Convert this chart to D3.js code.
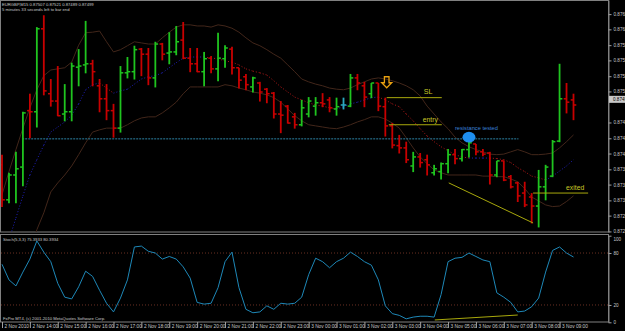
<!DOCTYPE html>
<html>
<head>
<meta charset="utf-8">
<script src="https://cdn.jsdelivr.net/npm/d3@7"></script>
<style>
  body { margin: 0; background: #000; }
  svg { display: block; }
  text { font-family: "Liberation Sans", Arial, sans-serif; }
</style>
</head>
<body>
<div id="chart"></div>
<script>
// EURGBP M15, 2 Nov 2010 13:00 .. 3 Nov 2010 09:30 (one entry per bar)
const opens = [0.87383,0.87321,0.87365,0.87379,0.87479,0.87477,0.87624,0.87509,0.87496,0.87473,
  0.87477,0.87556,0.87560,0.87562,0.87523,0.87500,0.87479,0.87448,0.87546,0.87548,
  0.87588,0.87579,0.87537,0.87597,0.87581,0.87583,0.87604,0.87572,0.87562,0.87548,
  0.87572,0.87553,0.87571,0.87588,0.87555,0.87539,0.87521,0.87528,0.87517,0.87510,
  0.87473,0.87487,0.87468,0.87454,0.87473,0.87487,0.87493,0.87498,0.87482,0.87489,
  0.87487,0.87537,0.87523,0.87509,0.87528,0.87486,0.87452,0.87417,0.87413,0.87381,
  0.87397,0.87392,0.87369,0.87371,0.87385,0.87401,0.87394,0.87410,0.87420,0.87406,
  0.87404,0.87365,0.87390,0.87362,0.87351,0.87333,0.87326,0.87310,0.87344,0.87363,
  0.87425,0.87500,0.87498]
const highs = [0.87401,0.87369,0.87406,0.87477,0.87509,0.87627,0.87648,0.87535,0.87558,0.87526,
  0.87564,0.87588,0.87638,0.87569,0.87535,0.87526,0.87491,0.87558,0.87574,0.87594,
  0.87590,0.87590,0.87601,0.87599,0.87618,0.87629,0.87636,0.87590,0.87590,0.87583,
  0.87576,0.87617,0.87595,0.87592,0.87555,0.87544,0.87539,0.87530,0.87519,0.87512,
  0.87496,0.87489,0.87475,0.87498,0.87503,0.87503,0.87510,0.87503,0.87502,0.87502,
  0.87544,0.87544,0.87530,0.87528,0.87528,0.87502,0.87457,0.87436,0.87424,0.87406,
  0.87404,0.87401,0.87383,0.87387,0.87411,0.87411,0.87411,0.87431,0.87420,0.87411,
  0.87406,0.87390,0.87390,0.87365,0.87353,0.87353,0.87333,0.87374,0.87383,0.87427,
  0.87562,0.87528,0.87509]
const lows = [0.87309,0.87316,0.87316,0.87346,0.87431,0.87450,0.87507,0.87487,0.87470,0.87461,
  0.87461,0.87523,0.87546,0.87523,0.87477,0.87463,0.87432,0.87441,0.87537,0.87535,
  0.87541,0.87525,0.87521,0.87569,0.87562,0.87578,0.87571,0.87548,0.87548,0.87523,
  0.87546,0.87532,0.87556,0.87544,0.87519,0.87516,0.87512,0.87496,0.87493,0.87466,
  0.87440,0.87457,0.87448,0.87452,0.87468,0.87471,0.87486,0.87477,0.87471,0.87482,
  0.87486,0.87516,0.87486,0.87502,0.87479,0.87434,0.87413,0.87404,0.87387,0.87371,
  0.87379,0.87365,0.87365,0.87358,0.87369,0.87385,0.87390,0.87397,0.87401,0.87399,
  0.87349,0.87362,0.87355,0.87342,0.87318,0.87309,0.87280,0.87273,0.87321,0.87362,
  0.87424,0.87475,0.87463]
const closes = [0.87321,0.87365,0.87376,0.87475,0.87477,0.87624,0.87514,0.87496,0.87470,0.87477,
  0.87558,0.87558,0.87562,0.87548,0.87500,0.87479,0.87448,0.87546,0.87548,0.87587,
  0.87579,0.87537,0.87597,0.87579,0.87583,0.87601,0.87572,0.87562,0.87548,0.87571,
  0.87553,0.87572,0.87590,0.87555,0.87533,0.87525,0.87537,0.87512,0.87509,0.87473,
  0.87471,0.87457,0.87454,0.87484,0.87496,0.87493,0.87491,0.87484,0.87486,0.87489,
  0.87537,0.87528,0.87503,0.87528,0.87487,0.87452,0.87418,0.87413,0.87392,0.87397,
  0.87387,0.87383,0.87376,0.87385,0.87401,0.87394,0.87410,0.87422,0.87406,0.87402,
  0.87365,0.87390,0.87356,0.87344,0.87328,0.87312,0.87310,0.87344,0.87379,0.87424,
  0.87500,0.87494,0.87489]

// bands (upper / middle / lower)
const bandUpper = [0.87330,0.87371,0.87410,0.87448,0.87484,0.87516,0.87541,0.87551,0.87553,0.87555,
  0.87565,0.87595,0.87617,0.87618,0.87620,0.87601,0.87583,0.87587,0.87594,0.87601,
  0.87599,0.87597,0.87597,0.87608,0.87618,0.87627,0.87631,0.87631,0.87629,0.87629,
  0.87627,0.87631,0.87629,0.87625,0.87618,0.87608,0.87599,0.87594,0.87587,0.87579,
  0.87572,0.87560,0.87548,0.87535,0.87530,0.87526,0.87523,0.87519,0.87517,0.87516,
  0.87519,0.87525,0.87530,0.87535,0.87537,0.87535,0.87532,0.87528,0.87523,0.87516,
  0.87505,0.87487,0.87473,0.87459,0.87447,0.87432,0.87422,0.87415,0.87410,0.87406,
  0.87402,0.87401,0.87402,0.87406,0.87410,0.87406,0.87401,0.87401,0.87402,0.87404,
  0.87413,0.87424,0.87436]
const bandMiddle = [0.87211,0.87250,0.87289,0.87328,0.87365,0.87392,0.87418,0.87441,0.87450,0.87459,
  0.87471,0.87491,0.87516,0.87525,0.87528,0.87519,0.87510,0.87514,0.87517,0.87526,
  0.87535,0.87539,0.87541,0.87546,0.87555,0.87564,0.87572,0.87574,0.87574,0.87574,
  0.87572,0.87571,0.87567,0.87565,0.87560,0.87553,0.87549,0.87546,0.87542,0.87532,
  0.87521,0.87512,0.87503,0.87498,0.87493,0.87489,0.87487,0.87484,0.87482,0.87486,
  0.87491,0.87494,0.87498,0.87502,0.87503,0.87498,0.87491,0.87486,0.87473,0.87461,
  0.87447,0.87434,0.87424,0.87415,0.87408,0.87401,0.87397,0.87395,0.87395,0.87395,
  0.87395,0.87394,0.87392,0.87387,0.87378,0.87371,0.87363,0.87360,0.87356,0.87363,
  0.87372,0.87381,0.87392]
const bandLower = [0.87091,0.87126,0.87162,0.87197,0.87233,0.87268,0.87298,0.87335,0.87351,0.87365,
  0.87381,0.87401,0.87422,0.87441,0.87445,0.87448,0.87448,0.87448,0.87454,0.87461,
  0.87466,0.87468,0.87468,0.87475,0.87484,0.87494,0.87509,0.87521,0.87521,0.87521,
  0.87521,0.87521,0.87525,0.87523,0.87519,0.87516,0.87512,0.87510,0.87507,0.87502,
  0.87494,0.87482,0.87470,0.87461,0.87454,0.87452,0.87450,0.87448,0.87447,0.87450,
  0.87454,0.87459,0.87463,0.87468,0.87468,0.87464,0.87457,0.87448,0.87431,0.87413,
  0.87397,0.87385,0.87374,0.87369,0.87365,0.87365,0.87365,0.87365,0.87365,0.87363,
  0.87363,0.87362,0.87362,0.87358,0.87353,0.87341,0.87326,0.87319,0.87312,0.87309,
  0.87310,0.87318,0.87328]

// Stoch(5,3,3) main line
const stochK = [67,49,42,58,73,94,81,70,45,29, 27,41,59,53,37,22,12,28,49,87,
  88,82,80,73,76,73,64,51,23,21, 22,40,70,81,40,15,11,12,19,15,
  22,21,22,29,55,74,70,63,70,74, 81,76,70,66,49,19,10,8,4,6,
  7,7,6,32,70,74,75,80,76,72, 70,34,29,23,12,13,18,28,58,83,
  87,80,75.39]

const timeLabels = ["2 Nov 2010","2 Nov 14:00","2 Nov 15:00","2 Nov 16:00","2 Nov 17:00","2 Nov 18:00",
  "2 Nov 19:00","2 Nov 20:00","2 Nov 21:00","2 Nov 22:00","2 Nov 23:00","3 Nov 00:00","3 Nov 01:00",
  "3 Nov 02:00","3 Nov 03:00","3 Nov 04:00","3 Nov 05:00","3 Nov 06:00","3 Nov 07:00","3 Nov 08:00","3 Nov 09:00"]
const priceTicks = [0.87650,0.87623,0.87595,0.87568,0.87540,0.87513,0.87458,0.87430,0.87403,0.87375,0.87348,0.87320,0.87293,0.87265]
const stochTicks = [100,80,20,0]
const stochLevels = [80,20]
const lastPrice = 0.87499

// drawn objects (bar index, price)
const resistance = { price: 0.87429, from: 2.9, to: 74.1 }
const slLine = { price: 0.87502, from: 55.2, to: 63.1 }
const entryLine = { price: 0.87454, from: 55.5, to: 63.1 }
const exitLine = { price: 0.87333, from: 76.2, to: 84.1 }
const trendMain = [[64.1, 0.87351], [76.2, 0.87280]]
const trendStoch = [[62.1, 2.7], [74.0, 8.4]]
const arrowAt = [55.2, 0.87539]
const touchAt = [67.0, 0.87432]

const W = 625, H = 331
const MAIN = { TOP: 0, BOTTOM: 232 }
const SUB = { TOP: 235, BOTTOM: 322 }
const AXIS_X = 608

const svg = d3.select("#chart").append("svg")
  .attr("width", W).attr("height", H)
svg.append("rect").attr("width", W).attr("height", H).attr("fill", "#000")

const x = d3.scaleLinear().domain([0, 82]).range([2, 573.5])
const y = d3.scaleLinear().domain([0.87264, 0.87675]).range([MAIN.BOTTOM, MAIN.TOP])
const ys = d3.scaleLinear().domain([0, 100]).range([322.3, 235.7])

const defs = svg.append("defs")
defs.append("clipPath").attr("id", "clipMain").append("rect")
  .attr("x", 1).attr("y", 1).attr("width", AXIS_X - 1).attr("height", MAIN.BOTTOM - 1)
defs.append("clipPath").attr("id", "clipSub").append("rect")
  .attr("x", 1).attr("y", SUB.TOP + 1).attr("width", AXIS_X - 1).attr("height", SUB.BOTTOM - SUB.TOP - 1)

// window frames
svg.append("rect").attr("x", 0.5).attr("y", 0.5).attr("width", AXIS_X).attr("height", MAIN.BOTTOM - 0.5)
  .attr("fill", "none").attr("stroke", "#808080")
svg.append("rect").attr("x", 0.5).attr("y", SUB.TOP - 0.5).attr("width", AXIS_X).attr("height", SUB.BOTTOM - SUB.TOP + 0.5)
  .attr("fill", "none").attr("stroke", "#808080")

const main = svg.append("g").attr("clip-path", "url(#clipMain)")
const sub = svg.append("g").attr("clip-path", "url(#clipSub)")

// bands
const bandLine = d3.line().x((d, i) => x(i)).y(d => y(d))
main.append("path").datum(bandUpper).attr("d", bandLine)
  .attr("fill", "none").attr("stroke", "#42261a").attr("stroke-width", 1)
main.append("path").datum(bandLower).attr("d", bandLine)
  .attr("fill", "none").attr("stroke", "#42261a").attr("stroke-width", 1)

// middle line, blue while rising, red while falling
const midSegs = d3.pairs(bandMiddle.map((v, i) => [i, v]))
main.selectAll(".mid").data(midSegs).enter().append("line")
  .attr("x1", d => x(d[0][0])).attr("y1", d => y(d[0][1]))
  .attr("x2", d => x(d[1][0])).attr("y2", d => y(d[1][1]))
  .attr("stroke", d => d[1][1] >= d[0][1] ? "#2020b8" : "#b01818")
  .attr("stroke-width", 1).attr("stroke-dasharray", "1,2")

// resistance level
main.append("line")
  .attr("x1", x(resistance.from)).attr("x2", x(resistance.to))
  .attr("y1", y(resistance.price)).attr("y2", y(resistance.price))
  .attr("stroke", "#2d84a6").attr("stroke-width", 1).attr("stroke-dasharray", "2,1")

// OHLC bars
const bars = d3.range(opens.length).map(i => ({ i, o: opens[i], h: highs[i], l: lows[i], c: closes[i] }))
const barColor = d => d.c > d.o ? "#1fc41f" : (d.c < d.o ? "#c80000" : "#2aa8c0")
const bar = main.selectAll(".bar").data(bars).enter().append("g")
bar.append("line")
  .attr("x1", d => x(d.i)).attr("x2", d => x(d.i))
  .attr("y1", d => y(d.h)).attr("y2", d => y(d.l) + 0.5)
  .attr("stroke", barColor).attr("stroke-width", 1.8)
bar.append("line")
  .attr("x1", d => x(d.i) - 2.8).attr("x2", d => x(d.i))
  .attr("y1", d => y(d.o)).attr("y2", d => y(d.o))
  .attr("stroke", barColor).attr("stroke-width", 1.5)
bar.append("line")
  .attr("x1", d => x(d.i)).attr("x2", d => x(d.i) + 2.8)
  .attr("y1", d => y(d.c)).attr("y2", d => y(d.c))
  .attr("stroke", barColor).attr("stroke-width", 1.5)

// trade annotations
const yellowLine = "#a8a80c"
const yellowText = "#c8c828"
;[slLine, entryLine, exitLine].forEach(l => {
  main.append("line")
    .attr("x1", x(l.from)).attr("x2", x(l.to))
    .attr("y1", y(l.price)).attr("y2", y(l.price))
    .attr("stroke", yellowLine).attr("stroke-width", 1)
})
main.append("line")
  .attr("x1", x(trendMain[0][0])).attr("y1", y(trendMain[0][1]))
  .attr("x2", x(trendMain[1][0])).attr("y2", y(trendMain[1][1]))
  .attr("stroke", yellowLine).attr("stroke-width", 1)

main.append("text").attr("x", x(slLine.from) + 37).attr("y", y(slLine.price) - 4)
  .attr("fill", yellowText).attr("font-size", 7.2).text("SL")
main.append("text").attr("x", x(entryLine.from) + 34).attr("y", y(entryLine.price) - 3)
  .attr("fill", yellowText).attr("font-size", 6.8).text("entry")
main.append("text").attr("x", x(exitLine.from) + 33).attr("y", y(exitLine.price) - 3)
  .attr("fill", yellowText).attr("font-size", 6.8).text("exited")
main.append("text").attr("x", x(touchAt[0]) - 14).attr("y", y(touchAt[1]) - 7)
  .attr("fill", "#3a80d8").attr("font-size", 5.7).text("resistance tested")
main.append("ellipse").attr("cx", x(touchAt[0])).attr("cy", y(touchAt[1]))
  .attr("rx", 6.5).attr("ry", 5.3).attr("fill", "#1e8ff0")

// hollow down arrow
const ax = x(arrowAt[0]), ay = y(arrowAt[1])
const arrow = d3.path()
arrow.moveTo(ax - 2.3, ay); arrow.lineTo(ax + 2.3, ay); arrow.lineTo(ax + 2.3, ay + 6)
arrow.lineTo(ax + 5, ay + 6); arrow.lineTo(ax, ay + 11); arrow.lineTo(ax - 5, ay + 6)
arrow.lineTo(ax - 2.3, ay + 6); arrow.closePath()
main.append("path").attr("d", arrow.toString())
  .attr("fill", "none").attr("stroke", "#e8a010").attr("stroke-width", 1.3)

// stochastic window
sub.selectAll(".lvl").data(stochLevels).enter().append("line")
  .attr("x1", 1).attr("x2", AXIS_X).attr("y1", d => ys(d)).attr("y2", d => ys(d))
  .attr("stroke", "#6a3022").attr("stroke-dasharray", "1,2")
sub.append("path").datum(stochK)
  .attr("d", d3.line().x((d, i) => x(i)).y(d => ys(d)))
  .attr("fill", "none").attr("stroke", "#1e88b8").attr("stroke-width", 1)
sub.append("line")
  .attr("x1", x(trendStoch[0][0])).attr("y1", ys(trendStoch[0][1]))
  .attr("x2", x(trendStoch[1][0])).attr("y2", ys(trendStoch[1][1]))
  .attr("stroke", yellowLine).attr("stroke-width", 1)

// price axis
const axisFont = "Liberation Sans, Arial, sans-serif"
const priceAxis = svg.append("g").attr("transform", `translate(${AXIS_X + 0.5},0)`)
  .call(d3.axisRight(y).tickValues(priceTicks).tickFormat(d3.format(".5f")).tickSize(3).tickSizeOuter(0).tickPadding(2))
priceAxis.select(".domain").attr("stroke", "#808080")
priceAxis.selectAll(".tick line").attr("stroke", "#a0a0a0")
priceAxis.selectAll("text").attr("fill", "#c8c8c8").attr("font-size", 4.6).attr("font-family", axisFont)

// current price box
svg.append("rect").attr("x", AXIS_X + 1).attr("y", y(lastPrice) - 3.5).attr("width", W - AXIS_X).attr("height", 7)
  .attr("fill", "#c8c8c8")
svg.append("text").attr("x", AXIS_X + 5).attr("y", y(lastPrice) + 2)
  .attr("fill", "#000").attr("font-size", 4.6).text(d3.format(".5f")(lastPrice))

const stochAxis = svg.append("g").attr("transform", `translate(${AXIS_X + 0.5},0)`)
  .call(d3.axisRight(ys).tickValues(stochTicks).tickSize(3).tickSizeOuter(0).tickPadding(2))
stochAxis.select(".domain").attr("stroke", "#808080")
stochAxis.selectAll(".tick line").attr("stroke", "#a0a0a0")
stochAxis.selectAll("text").attr("fill", "#c8c8c8").attr("font-size", 4.6).attr("font-family", axisFont)
  .attr("dy", d => d === 100 ? "1.1em" : "0.32em")

// time axis
const timeAxis = svg.append("g").attr("transform", `translate(0,${SUB.BOTTOM})`)
  .call(d3.axisBottom(x).tickValues(d3.range(0, 81, 4)).tickFormat(i => timeLabels[i / 4]).tickSize(6).tickSizeOuter(0))
timeAxis.select(".domain").remove()
timeAxis.selectAll(".tick line").attr("stroke", "#a0a0a0")
timeAxis.selectAll("text").attr("text-anchor", "start").attr("x", 2).attr("y", 3).attr("dy", "0.71em")
  .attr("fill", "#c8c8c8").attr("font-size", 4.8).attr("font-family", axisFont)

// captions
const caption = "#c8c8c8"
svg.append("text").attr("x", 2).attr("y", 6).attr("fill", caption).attr("font-size", 4.2)
  .text("EURGBP,M15  0.87507 0.87521 0.87489 0.87499")
svg.append("text").attr("x", 2).attr("y", 11).attr("fill", caption).attr("font-size", 4.2)
  .text("5 minutes 33 seconds left to bar end")
svg.append("text").attr("x", 3).attr("y", 241).attr("fill", caption).attr("font-size", 4.2)
  .text("Stoch(5,3,3) 75.3933 80.3934")
svg.append("text").attr("x", 3).attr("y", 320).attr("fill", caption).attr("font-size", 4.2)
  .text("FxPro MT4, (c) 2001-2010 MetaQuotes Software Corp.")
</script>
</body>
</html>
